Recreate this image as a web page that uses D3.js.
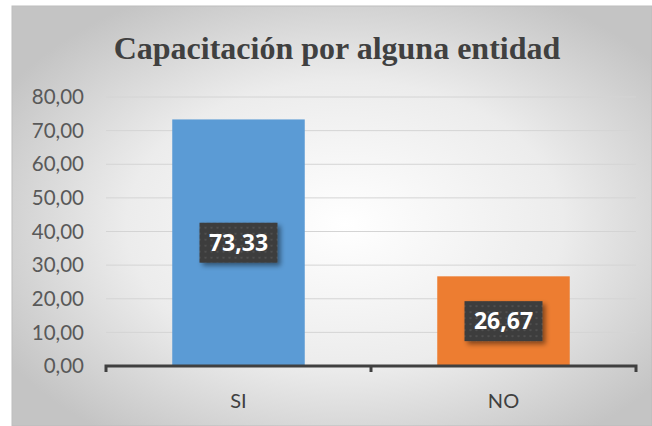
<!DOCTYPE html>
<html>
<head>
<meta charset="utf-8">
<script src="https://cdn.jsdelivr.net/npm/d3@7"></script>
<style>
  body { margin: 0; background: #fff; }
  svg { display: block; }
</style>
</head>
<body>
<script>
var width = 652
var height = 426

// data
var categories = ["SI", "NO"]
var values = [73.33, 26.67]
var barColors = ["#5b9bd5", "#ed7d31"]
var yTicks = [0, 10, 20, 30, 40, 50, 60, 70, 80]
var title = "Capacitación por alguna entidad"

var fmt = function(v) { return d3.format(".2f")(v).replace(".", ",") }

var svg = d3.select("body")
  .append("svg")
  .attr("width", width)
  .attr("height", height)

var defs = svg.append("defs")

// background gradient
var grad = defs.append("radialGradient")
  .attr("id", "bg")
  .attr("cx", "52%").attr("cy", "52%").attr("r", "62%")
grad.append("stop").attr("offset", "0%").attr("stop-color", "#ffffff")
grad.append("stop").attr("offset", "55%").attr("stop-color", "#ececec")
grad.append("stop").attr("offset", "100%").attr("stop-color", "#c4c4c4")

// dotted label box
var pat = defs.append("pattern")
  .attr("id", "dots")
  .attr("width", 6).attr("height", 6)
  .attr("patternUnits", "userSpaceOnUse")
pat.append("rect").attr("width", 6).attr("height", 6).attr("fill", "#3c3c3c")
pat.append("circle").attr("cx", 3).attr("cy", 3).attr("r", 1).attr("fill", "#555")

var shadow = defs.append("filter").attr("id", "shadow")
  .attr("x", "-20%").attr("y", "-20%").attr("width", "150%").attr("height", "150%")
shadow.append("feDropShadow")
  .attr("dx", 3).attr("dy", 3).attr("stdDeviation", 2.5)
  .attr("flood-color", "#000").attr("flood-opacity", 0.45)

svg.append("rect")
  .attr("x", 12).attr("y", 6)
  .attr("width", width - 12).attr("height", height - 6)
  .attr("fill", "url(#bg)")
  .attr("stroke", "#bdbdbd")

svg.append("text")
  .attr("x", 337).attr("y", 59)
  .attr("text-anchor", "middle")
  .style("font-family", "'Liberation Serif', 'Times New Roman', serif")
  .style("font-weight", "bold")
  .style("font-size", "32px")
  .style("fill", "#404040")
  .text(title)

var margin = { left: 106, right: 16, top: 97, bottom: 60 }

var x = d3.scaleBand()
  .domain(categories)
  .range([margin.left, width - margin.right])
  .paddingInner(0.5)
  .paddingOuter(0.25)

var y = d3.scaleLinear()
  .domain([0, 80])
  .range([height - margin.bottom, margin.top])

// gridlines
svg.append("g")
  .selectAll("line")
  .data(yTicks.slice(1))
  .enter()
  .append("line")
  .attr("x1", margin.left).attr("x2", width - margin.right)
  .attr("y1", function(d) { return y(d) }).attr("y2", function(d) { return y(d) })
  .attr("stroke", "#d4d4d4")
  .attr("stroke-width", 1)

// y tick labels
svg.append("g")
  .selectAll("text")
  .data(yTicks)
  .enter()
  .append("text")
  .attr("x", 84)
  .attr("y", function(d) { return y(d) })
  .attr("dy", "0.35em")
  .attr("text-anchor", "end")
  .style("font-family", "Lato, 'Open Sans', sans-serif")
  .style("font-size", "20.5px")
  .style("fill", "#595959")
  .text(fmt)

// bars
svg.append("g")
  .selectAll("rect")
  .data(values)
  .enter()
  .append("rect")
  .attr("x", function(d, i) { return x(categories[i]) })
  .attr("y", function(d) { return y(d) })
  .attr("width", x.bandwidth())
  .attr("height", function(d) { return y(0) - y(d) })
  .attr("fill", function(d, i) { return barColors[i] })

// x axis
var xAxis = d3.axisBottom(x).tickSize(0).tickFormat("")
var gx = svg.append("g")
  .attr("transform", "translate(0," + y(0) + ")")
gx.call(xAxis)
gx.select(".domain").remove()
var ax0 = margin.left, ax1 = width - margin.right
var midTick = (x(categories[0]) + x.bandwidth() + x(categories[1])) / 2
gx.append("path")
  .attr("d", "M" + ax0 + ",6V0H" + ax1 + "V6")
  .attr("fill", "none")
  .attr("stroke", "#404040")
  .attr("stroke-width", 3)
gx.append("line")
  .attr("x1", midTick).attr("x2", midTick)
  .attr("y1", 0).attr("y2", 6)
  .attr("stroke", "#404040")
  .attr("stroke-width", 3)

svg.append("g")
  .selectAll("text")
  .data(categories)
  .enter()
  .append("text")
  .attr("x", function(d) { return x(d) + x.bandwidth() / 2 })
  .attr("y", 408)
  .attr("text-anchor", "middle")
  .style("font-family", "Lato, 'Open Sans', sans-serif")
  .style("font-size", "20px")
  .style("fill", "#404040")
  .text(function(d) { return d })

// data labels
var lbl = svg.append("g")
  .selectAll("g")
  .data(values)
  .enter()
  .append("g")
  .attr("transform", function(d, i) {
    return "translate(" + (x(categories[i]) + x.bandwidth() / 2) + "," + ((y(d) + y(0)) / 2) + ")"
  })
lbl.append("rect")
  .attr("x", -39).attr("y", -20)
  .attr("width", 78).attr("height", 40)
  .attr("fill", "url(#dots)")
  .attr("filter", "url(#shadow)")
lbl.append("text")
  .attr("dy", "0.36em")
  .attr("text-anchor", "middle")
  .style("font-family", "'Open Sans', sans-serif")
  .style("font-weight", "bold")
  .style("font-size", "23px")
  .style("fill", "#fff")
  .text(fmt)
</script>
</body>
</html>
